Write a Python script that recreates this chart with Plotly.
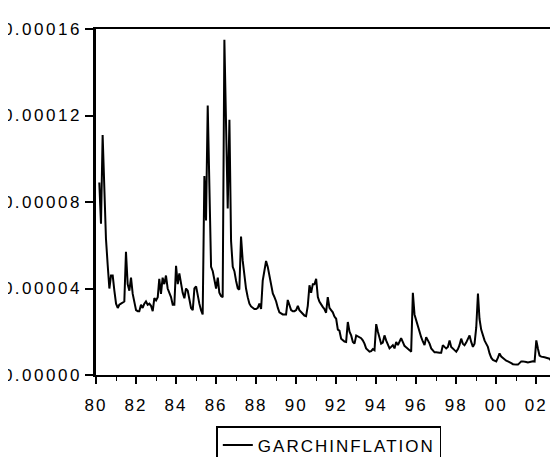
import plotly.graph_objects as go
import pandas as pd

# Monthly GARCH conditional variance of inflation, in units of 1e-5, starting 1980:03
start_month = "1980-03-01"
garch_e5 = [
    8.9, 7.0, 11.1, 8.0, 6.3, 5.1, 4.0, 4.6, 4.6, 3.9,
    3.3, 3.1, 3.25, 3.3, 3.35, 3.4, 5.7, 4.2, 3.9, 4.5,
    3.75, 3.3, 3.0, 2.95, 2.95, 3.25, 3.1, 3.3, 3.4, 3.25,
    3.3, 3.2, 2.95, 3.55, 3.45, 3.6, 4.45, 3.75, 4.5, 4.2,
    4.6, 4.0, 3.8, 3.6, 3.25, 3.25, 5.05, 4.2, 4.7, 4.2,
    3.8, 3.55, 4.0, 3.9, 3.4, 3.1, 3.0, 4.0, 4.1, 3.6,
    3.3, 3.0, 2.8, 9.2, 7.15, 12.46, 8.5, 5.0, 4.8, 4.4,
    4.0, 4.5, 3.8, 3.65, 3.6, 15.5, 11.2, 7.7, 11.8, 6.2,
    5.0, 4.8, 4.35, 4.0, 3.95, 6.4, 5.3, 4.5, 4.0, 3.6,
    3.3, 3.17, 3.1, 3.05, 3.05, 3.1, 3.3, 3.05, 4.37, 4.9,
    5.27, 5.0, 4.6, 4.2, 3.77, 3.6, 3.4, 3.1, 2.9, 2.85,
    2.8, 2.8, 2.8, 3.47, 3.2, 3.0, 2.95, 2.95, 3.0, 3.2,
    3.0, 2.9, 2.85, 2.75, 2.72, 3.2, 4.15, 3.8, 4.2, 4.2,
    4.45, 3.6, 3.4, 3.25, 3.15, 3.05, 2.88, 3.6, 3.1, 3.0,
    2.9, 2.7, 2.6, 2.1, 2.05, 1.68, 1.6, 1.55, 1.53, 2.45,
    2.0, 1.83, 1.53, 1.45, 1.83, 1.78, 1.75, 1.7, 1.6, 1.45,
    1.23, 1.15, 1.08, 1.1, 1.2, 1.15, 2.35, 2.0, 1.75, 1.45,
    1.5, 1.83, 1.6, 1.45, 1.23, 1.3, 1.38, 1.23, 1.53, 1.38,
    1.5, 1.7, 1.53, 1.35, 1.28, 1.23, 1.15, 1.08, 3.8, 2.8,
    2.5, 2.2, 1.95, 1.75, 1.55, 1.38, 1.75, 1.6, 1.45, 1.23,
    1.12, 1.05, 1.05, 1.03, 1.03, 1.03, 1.38, 1.3, 1.23, 1.3,
    1.6, 1.3, 1.2, 1.15, 1.08, 1.2, 1.38, 1.68, 1.45, 1.38,
    1.5, 1.68, 1.83, 1.53, 1.3, 1.45, 2.2, 3.77, 2.6, 2.1,
    1.83, 1.6, 1.45, 1.3, 1.0, 0.8, 0.7, 0.65, 0.63, 0.8,
    1.0, 0.85, 0.78, 0.7, 0.66, 0.63, 0.6, 0.55, 0.5, 0.48,
    0.48, 0.48, 0.55, 0.63, 0.63, 0.63, 0.6, 0.58, 0.6, 0.63,
    0.63, 0.62, 1.6, 1.2, 0.9, 0.85, 0.85, 0.82, 0.8, 0.78,
    0.75, 0.65, 0.9, 1.0, 1.1, 2.85, 1.83, 1.45, 1.3, 1.1,
    1.0, 0.95, 0.9,
]
series_name = "GARCHINFLATION"

y_tick_values = [0.0, 0.00004, 0.00008, 0.00012, 0.00016]
y_tick_labels = ["0.00000", "0.00004", "0.00008", "0.00012", "0.00016"]
x_tick_years = [1980, 1982, 1984, 1986, 1988, 1990, 1992, 1994, 1996, 1998, 2000, 2002]
x_tick_labels = ["80", "82", "84", "86", "88", "90", "92", "94", "96", "98", "00", "02"]

dates = pd.date_range(start_month, periods=len(garch_e5), freq="MS")
values = [v * 1e-5 for v in garch_e5]


def spaced(t, px):
    return f'<span style="letter-spacing:{px}px">{t}</span>'


FONT = dict(family="Liberation Sans, Arial, sans-serif", size=17, color="black")

fig = go.Figure()
fig.add_trace(go.Scatter(
    x=dates, y=values, mode="lines",
    line=dict(color="black", width=2),
    name=spaced(series_name, 2), showlegend=True,
))

fig.update_layout(
    width=558, height=457, autosize=False,
    margin=dict(l=88, r=0, t=21, b=80, pad=0),
    paper_bgcolor="white", plot_bgcolor="white",
    font=FONT,
    showlegend=True,
    legend=dict(
        x=0.256, y=-0.148, xanchor="left", yanchor="top",
        bordercolor="black", borderwidth=1.5, bgcolor="white",
        font=FONT, orientation="h",
    ),
)
fig.update_xaxes(
    type="date",
    range=["1980-01-01", "2003-06-27"],
    tickvals=[f"{y}-01-01" for y in x_tick_years],
    ticktext=[spaced(t, 2) for t in x_tick_labels],
    ticks="outside", ticklen=7, tickwidth=1.5, tickcolor="black",
    ticklabelstandoff=7,
    minor=dict(ticks="outside", dtick="M12", tick0="1980-01-01", ticklen=4, tickwidth=1.2, tickcolor="black"),
    showline=True, linecolor="black", linewidth=2, mirror=True,
    showgrid=False, zeroline=False, tickfont=FONT,
    automargin=False,
)
fig.update_yaxes(
    range=[0, 0.00016],
    tickvals=y_tick_values,
    ticktext=[spaced(t, 2.5) for t in y_tick_labels],
    ticks="outside", ticklen=8, tickwidth=1.5, tickcolor="black",
    showline=True, linecolor="black", linewidth=2.5, mirror=False,
    showgrid=False, zeroline=False, tickfont=FONT,
    automargin=False,
)

fig.write_html("out.html")
